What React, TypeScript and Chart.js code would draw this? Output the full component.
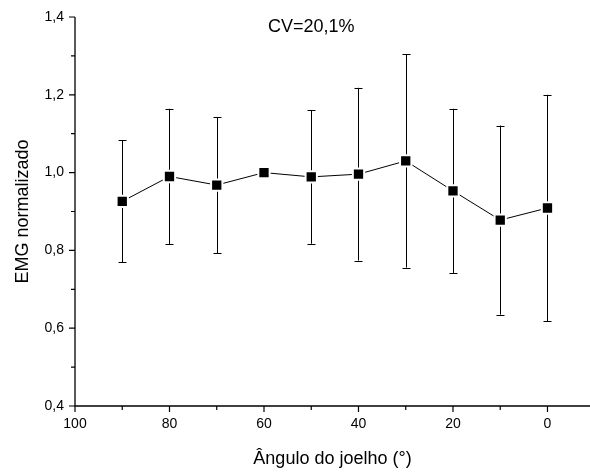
import React, { useEffect, useRef } from "react";
import { Chart, registerables } from "chart.js";

Chart.register(...registerables);

const angles = [90, 80, 70, 60, 50, 40, 30, 20, 10, 0];
const emgMeans = [0.926, 0.99, 0.968, 1.0, 0.989, 0.996, 1.03, 0.953, 0.878, 0.909];
const emgSD = [0.157, 0.174, 0.175, 0, 0.172, 0.222, 0.274, 0.211, 0.243, 0.291];

const xMajorTicks = [100, 80, 60, 40, 20, 0];
const xMinorTicks = [90, 70, 50, 30, 10];
const yMajorTicks = [0.4, 0.6, 0.8, 1.0, 1.2, 1.4];
const yMinorTicks = [0.5, 0.7, 0.9, 1.1, 1.3];

const titleText = "CV=20,1%";
const xTitle = "Ângulo do joelho (°)";
const yTitle = "EMG normalizado";

const FONT = "Arial, 'Liberation Sans', sans-serif";

const decorPlugin = {
  id: "decor",
  beforeDatasetsDraw(chart: any) {
    const { ctx, scales } = chart;
    const xs = scales.x;
    const ys = scales.y;
    ctx.save();
    ctx.strokeStyle = "#000";
    ctx.lineWidth = 1;
    const cap = 4;
    angles.forEach((a, i) => {
      const sd = emgSD[i];
      if (!sd) return;
      const px = Math.round(xs.getPixelForValue(a)) + 0.5;
      const yTop = ys.getPixelForValue(emgMeans[i] + sd);
      const yBot = ys.getPixelForValue(emgMeans[i] - sd);
      ctx.beginPath();
      ctx.moveTo(px, yTop);
      ctx.lineTo(px, yBot);
      ctx.moveTo(px - cap, Math.round(yTop) + 0.5);
      ctx.lineTo(px + cap, Math.round(yTop) + 0.5);
      ctx.moveTo(px - cap, Math.round(yBot) + 0.5);
      ctx.lineTo(px + cap, Math.round(yBot) + 0.5);
      ctx.stroke();
    });
    ctx.restore();
  },
  afterDraw(chart: any) {
    const { ctx, chartArea, scales } = chart;
    const xs = scales.x;
    const ys = scales.y;
    ctx.save();
    ctx.strokeStyle = "#000";
    ctx.lineWidth = 1.3;
    const L = chartArea.left;
    const B = chartArea.bottom;
    ctx.beginPath();
    ctx.moveTo(L, chartArea.top);
    ctx.lineTo(L, B);
    ctx.lineTo(chartArea.right, B);
    ctx.stroke();
    ctx.lineWidth = 1.2;
    ctx.beginPath();
    xMajorTicks.forEach((v) => {
      const p = xs.getPixelForValue(v);
      ctx.moveTo(p, B);
      ctx.lineTo(p, B + 6);
    });
    xMinorTicks.forEach((v) => {
      const p = xs.getPixelForValue(v);
      ctx.moveTo(p, B);
      ctx.lineTo(p, B + 4);
    });
    yMajorTicks.forEach((v) => {
      const p = ys.getPixelForValue(v);
      ctx.moveTo(L, p);
      ctx.lineTo(L - 6, p);
    });
    yMinorTicks.forEach((v) => {
      const p = ys.getPixelForValue(v);
      ctx.moveTo(L, p);
      ctx.lineTo(L - 4, p);
    });
    ctx.stroke();
    ctx.fillStyle = "#000";
    ctx.font = `18px ${FONT}`;
    ctx.textAlign = "center";
    ctx.textBaseline = "middle";
    ctx.fillText(titleText, xs.getPixelForValue(50), ys.getPixelForValue(1.375));
    ctx.restore();
  },
};

export default function App() {
  const ref = useRef<HTMLCanvasElement>(null);
  useEffect(() => {
    if (!ref.current) return;
    const chart = new Chart(ref.current, {
      type: "line",
      data: {
        datasets: [
          {
            data: angles.map((a, i) => ({ x: a, y: emgMeans[i] })),
            borderColor: "#000",
            borderWidth: 1,
            backgroundColor: "#000",
            pointStyle: "rect",
            pointRadius: 8,
            pointBorderColor: "#fff",
            pointBorderWidth: 2,
            pointBackgroundColor: "#000",
            tension: 0,
          },
        ],
      },
      options: {
        responsive: false,
        animation: false,
        events: [],
        layout: { autoPadding: false, padding: { top: 17, right: 0, left: 0, bottom: 0 } },
        plugins: { legend: { display: false }, tooltip: { enabled: false } },
        scales: {
          x: {
            type: "linear",
            reverse: true,
            min: -9,
            max: 100,
            border: { display: false },
            grid: { display: false, drawTicks: false },
            afterBuildTicks: (s: any) => {
              s.ticks = xMajorTicks.map((v) => ({ value: v }));
            },
            afterFit: (s: any) => {
              s.height = 69;
              s.paddingRight = 0;
              s.paddingLeft = 0;
            },
            ticks: {
              color: "#000",
              padding: 10,
              maxRotation: 0,
              autoSkip: false,
              font: { family: FONT, size: 14 },
              callback: (v: any) => String(v),
            },
            title: {
              display: true,
              text: xTitle,
              color: "#000",
              font: { family: FONT, size: 18 },
              padding: { top: 0, bottom: 5 },
            },
          },
          y: {
            type: "linear",
            min: 0.4,
            max: 1.4,
            border: { display: false },
            grid: { display: false, drawTicks: false },
            afterBuildTicks: (s: any) => {
              s.ticks = yMajorTicks.map((v) => ({ value: v }));
            },
            afterFit: (s: any) => {
              s.width = 75;
              s.paddingTop = 0;
              s.paddingBottom = 0;
            },
            ticks: {
              color: "#000",
              padding: 11,
              autoSkip: false,
              font: { family: FONT, size: 14 },
              callback: (v: any) => Number(v).toFixed(1).replace(".", ","),
            },
            title: {
              display: true,
              text: yTitle,
              color: "#000",
              font: { family: FONT, size: 18 },
              padding: { top: 12, bottom: 0 },
            },
          },
        },
      },
      plugins: [decorPlugin],
    } as any);
    return () => chart.destroy();
  }, []);
  return (
    <div style={{ position: "fixed", left: 0, top: 0, width: 590, height: 475, background: "#fff" }}>
      <canvas ref={ref} width={590} height={475} style={{ display: "block" }} />
    </div>
  );
}
